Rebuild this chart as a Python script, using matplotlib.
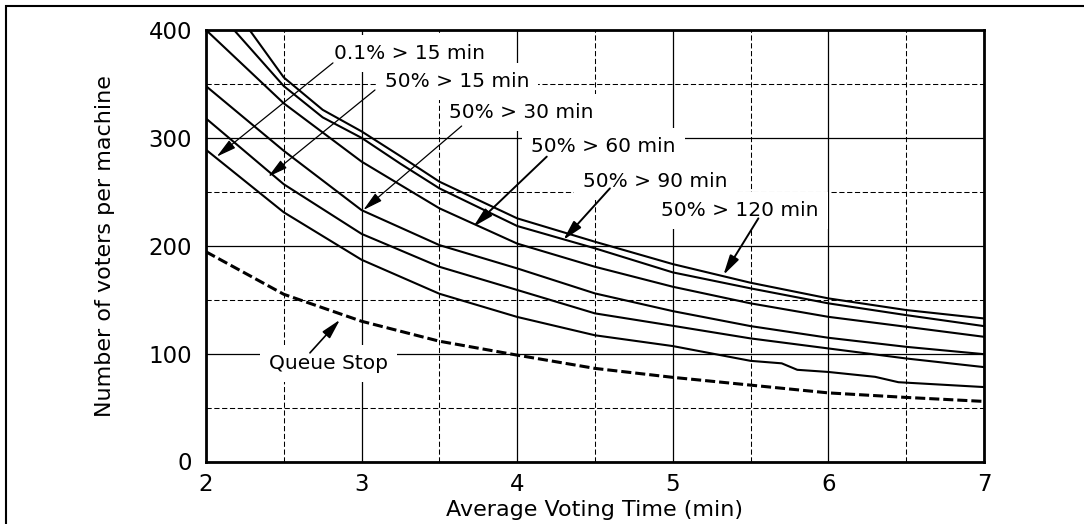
import matplotlib
matplotlib.use("Agg")
import matplotlib.pyplot as plt
from matplotlib.patches import Rectangle

# Average voting time (min) and voters per machine
T_015 = [2, 2.5, 3, 3.5, 4, 4.5, 5, 5.5, 5.7, 5.8, 6, 6.3, 6.45, 7]
V_015 = [289, 231, 187, 155.5, 134, 117, 107, 93.3, 91, 85, 83, 78.5, 73.5, 69]

T_STD = [2, 2.5, 3, 3.5, 4, 4.5, 5, 5.5, 6, 6.5, 7]
V_50_15 = [318, 257, 211, 180.5, 159, 137.3, 125.8, 114.1, 104.8, 95.5, 87.5]
V_50_30 = [348, 288, 233, 200.6, 179, 155.8, 139.4, 125.5, 114.7, 106.3, 99.5]

T_50_60 = [2, 2.5, 2.75, 3, 3.5, 4, 4.5, 5, 5.5, 6, 6.5, 7]
V_50_60 = [400, 332, 305, 278, 234.7, 202, 180.5, 162, 146.6, 134.1, 124.9, 115.6]

T_50_90 = [2.18, 2.5, 2.75, 3, 3.25, 3.5, 4, 4.5, 5, 5.5, 6, 6.5, 7]
V_50_90 = [400, 348, 319, 300, 276, 253.2, 218.3, 197.6, 175.3, 160.5, 146.6, 135.7, 125.5]

T_50_120 = [2.28, 2.5, 2.75, 3, 3.25, 3.5, 4, 4.5, 5, 5.5, 6, 6.5, 7]
V_50_120 = [400, 356, 326, 306, 283, 259.4, 225.4, 203.7, 183, 165.7, 151.2, 140.4, 132.6]

V_QUEUE_STOP = [194.4, 155, 130, 111.5, 98.6, 86.3, 78, 70.8, 63.6, 59.4, 55.7]

X_TICKS = [2, 3, 4, 5, 6, 7]
X_MINOR = [2.5, 3.5, 4.5, 5.5, 6.5]
Y_TICKS = [0, 100, 200, 300, 400]
Y_MINOR = [50, 150, 250, 350]

fig = plt.figure(figsize=(10.84, 5.24), dpi=100)
ax = fig.add_axes([206 / 1084, 1 - 461.5 / 524, 778 / 1084, 431.5 / 524])

# outer frame (only left and top edges fall inside the image)
fig.add_artist(Rectangle((6 / 1084, -0.3), 1.5, 1.3 - 6 / 524, fill=False,
                         lw=1.5, ec="black", transform=fig.transFigure))

curve_kw = dict(color="black", lw=1.5, zorder=3)
ax.plot(T_015, V_015, **curve_kw)
ax.plot(T_STD, V_50_15, **curve_kw)
ax.plot(T_STD, V_50_30, **curve_kw)
ax.plot(T_50_60, V_50_60, **curve_kw)
ax.plot(T_50_90, V_50_90, **curve_kw)
ax.plot(T_50_120, V_50_120, **curve_kw)
ax.plot(T_STD, V_QUEUE_STOP, color="black", lw=2.2, ls=(0, (3.3, 1.3)), zorder=3)

ax.set_xlim(2, 7)
ax.set_ylim(0, 400)
ax.set_xticks(X_TICKS)
ax.set_xticks(X_MINOR, minor=True)
ax.set_yticks(Y_TICKS)
ax.set_yticks(Y_MINOR, minor=True)
ax.set_axisbelow(True)
ax.grid(which="major", color="black", lw=0.9, ls="-")
ax.grid(which="minor", color="black", lw=0.75, ls=(0, (5, 2.5)))
ax.tick_params(which="both", length=0, labelsize=16.5)
ax.tick_params(axis="y", pad=10)
ax.tick_params(axis="x", pad=8)
for sp in ax.spines.values():
    sp.set_linewidth(2)
    sp.set_zorder(6)

ax.set_xlabel("Average Voting Time (min)", fontsize=16)
ax.xaxis.set_label_coords(0.5, -0.089)
ax.set_ylabel("Number of voters per machine", fontsize=16)
ax.yaxis.set_label_coords(-0.117, 0.5)

# (label, text position, arrow tail, arrow head, arrow width)
labels = [
    ("0.1% > 15 min", (3.308, 378.5), (2.816, 369.5), (2.069, 282.6), 0.9),
    ("50% > 15 min", (3.613, 352), (3.086, 344.4), (2.40, 264), 0.9),
    ("50% > 30 min", (4.028, 323.4), (3.643, 311), (3.011, 233.1), 0.9),
    ("50% > 60 min", (4.556, 291.8), (4.19, 282.6), (3.718, 217.6), 1.4),
    ("50% > 90 min", (4.888, 260), (4.596, 253.2), (4.296, 205.3), 1.4),
    ("50% > 120 min", (5.432, 232.5), (5.55, 225.4), (5.325, 172.8), 1.4),
    ("Queue Stop", (2.786, 90.9), (2.668, 100.7), (2.861, 131.4), 1.2),
]
for text, pos, tail, head, lw in labels:
    ax.text(pos[0], pos[1], text, fontsize=14.5, ha="center", va="center", zorder=4,
            bbox=dict(boxstyle="square,pad=0.45", fc="white", ec="none"))
    ax.annotate("", xy=head, xytext=tail, zorder=5,
                arrowprops=dict(arrowstyle="-|>,head_length=0.6,head_width=0.15",
                                color="black", lw=lw, mutation_scale=20,
                                shrinkA=0, shrinkB=0))

fig.savefig("out.png", dpi=100)
